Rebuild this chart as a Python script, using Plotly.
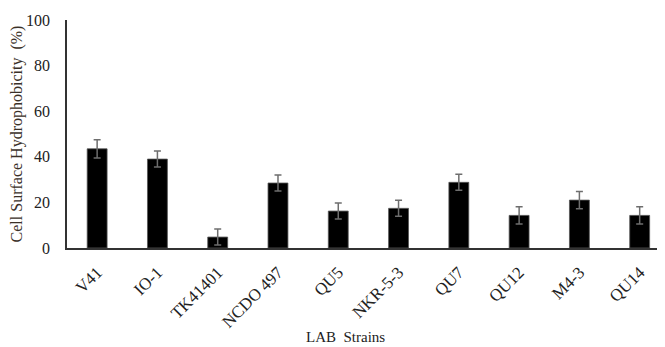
import plotly.graph_objects as go

strains = ["V41", "IO-1", "TK41401", "NCDO 497", "QU5", "NKR-5-3", "QU7", "QU12", "M4-3", "QU14"]
hydrophobicity = [43.5, 39.0, 4.8, 28.5, 16.2, 17.4, 28.8, 14.3, 21.0, 14.3]
errors = [4.0, 3.5, 3.5, 3.5, 3.5, 3.5, 3.5, 3.8, 3.8, 3.8]
y_ticks = [0, 20, 40, 60, 80, 100]

serif = "Liberation Serif, Times New Roman, serif"

# the page body has an 8px margin, so the figure is sized to fit inside the window
fig = go.Figure(
    go.Bar(
        x=strains,
        y=hydrophobicity,
        width=0.33,
        marker=dict(color="#000000", line=dict(color="#555555", width=0.8)),
        error_y=dict(type="data", array=errors, color="#6e6e6e", thickness=1.5, width=3.5),
    )
)

fig.update_layout(
    width=657,
    height=339,
    margin=dict(l=59, r=0, t=12, b=99),
    paper_bgcolor="white",
    plot_bgcolor="white",
    showlegend=False,
    xaxis=dict(
        range=[-0.5, 9.42],
        automargin=False,
        showline=True,
        linecolor="#333333",
        linewidth=1.5,
        ticks="",
        tickangle=-45,
        ticklabelstandoff=6,
        tickfont=dict(family=serif, size=17, color="#222222"),
        showgrid=False,
    ),
    yaxis=dict(
        range=[0, 100],
        automargin=False,
        tickvals=y_ticks,
        showline=True,
        linecolor="#333333",
        linewidth=1.5,
        ticks="",
        ticklabelstandoff=12,
        tickfont=dict(family=serif, size=16, color="#222222"),
        showgrid=False,
        zeroline=False,
        title=dict(
            text="Cell Surface Hydrophobicity  (%)",
            font=dict(family=serif, size=16, color="#3a3028"),
            standoff=7,
        ),
    ),
    annotations=[
        dict(
            text="LAB  Strains",
            xref="paper",
            yref="paper",
            x=0.465,
            y=-0.39,
            yanchor="middle",
            showarrow=False,
            font=dict(family=serif, size=15, color="#222222"),
        )
    ],
)

fig.write_html("out.html")
